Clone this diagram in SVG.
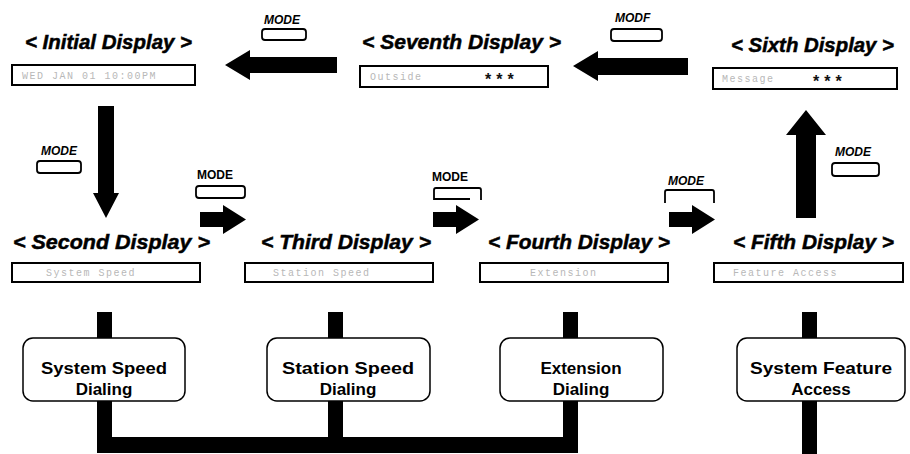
<svg xmlns="http://www.w3.org/2000/svg" width="910" height="454" viewBox="0 0 910 454">
<style>
.title{font-family:"Liberation Sans",Arial,sans-serif;font-weight:bold;font-style:italic;font-size:20.5px;fill:#000;stroke:#000;stroke-width:0.5}
.disp{fill:#fff;stroke:#000;stroke-width:2}
.dtxt{font-family:"Liberation Mono","DejaVu Sans Mono",monospace;font-size:10px;fill:#b8b8b8;letter-spacing:1.5px}
.star{font-family:"Liberation Sans",Arial,sans-serif;font-size:16px;font-weight:bold;fill:#111}
.node{fill:#fff;stroke:#000;stroke-width:1.5}
.ntxt{font-family:"Liberation Sans",Arial,sans-serif;font-weight:bold;font-size:17px;fill:#000;text-anchor:middle}
.mode{font-family:"Liberation Sans",Arial,sans-serif;font-weight:bold;font-style:italic;font-size:12px;fill:#000}
.modeu{font-family:"Liberation Sans",Arial,sans-serif;font-weight:bold;font-size:12px;fill:#000}
.btn{fill:#fff;stroke:#000;stroke-width:1.8}
.arr{fill:#000}
.bar{fill:#000}
</style>

<g id="connectors">
  <!-- Seventh -> Initial -->
  <polygon class="arr" points="225,65 250,50 250,57 337,57 337,73 250,73 250,80"/>
  <!-- Sixth -> Seventh -->
  <polygon class="arr" points="573,66 598,51 598,58 688,58 688,75 598,75 598,81"/>
  <!-- Initial -> Second -->
  <polygon class="arr" points="98,106 114,106 114,193 119,193 106,218 93,193 98,193"/>
  <!-- Fifth -> Sixth -->
  <polygon class="arr" points="806,110 826,135 816,135 816,218 796,218 796,135 786,135"/>
  <!-- Second -> Third -->
  <polygon class="arr" points="200,212 223,212 223,205 246,219.5 223,234 223,227 200,227"/>
  <!-- Third -> Fourth -->
  <polygon class="arr" points="433,212 456,212 456,205 479,219.5 456,234 456,227 433,227"/>
  <!-- Fourth -> Fifth -->
  <polygon class="arr" points="669,212 692,212 692,205 715,219.5 692,234 692,227 669,227"/>
  <!-- stubs and bus -->
  <rect class="bar" x="97" y="312" width="15" height="27"/>
  <rect class="bar" x="97" y="401" width="15" height="50"/>
  <rect class="bar" x="328" y="312" width="15" height="27"/>
  <rect class="bar" x="328" y="401" width="15" height="50"/>
  <rect class="bar" x="563" y="312" width="15" height="27"/>
  <rect class="bar" x="563" y="401" width="15" height="50"/>
  <rect class="bar" x="97" y="437" width="481" height="16"/>
  <rect class="bar" x="802" y="312" width="15" height="27"/>
  <rect class="bar" x="802" y="401" width="15" height="53"/>
</g>

<g id="mode-buttons">
  <g id="btn-top-left">
    <text class="mode" x="264" y="24">MODE</text>
    <rect class="btn" x="262" y="29" width="44" height="11" rx="3"/>
  </g>
  <g id="btn-top-right">
    <text class="mode" x="615" y="22">MODF</text>
    <rect class="btn" x="611" y="29" width="51" height="12" rx="3"/>
  </g>
  <g id="btn-left">
    <text class="mode" x="41" y="155">MODE</text>
    <rect class="btn" x="37" y="161" width="44" height="12" rx="3"/>
  </g>
  <g id="btn-row2-1">
    <text class="modeu" x="197" y="179">MODE</text>
    <rect class="btn" x="196" y="186" width="49" height="12" rx="3"/>
  </g>
  <g id="btn-row2-2">
    <text class="modeu" x="432" y="181">MODE</text>
    <path d="M434,200 V190 Q434,188 436,188 H479 Q481,188 481,190 V200 M434,199 H470" fill="none" stroke="#000" stroke-width="1.8"/>
  </g>
  <g id="btn-row2-3">
    <text class="mode" x="668" y="185">MODE</text>
    <path d="M665,203 V192 Q665,190 667,190 H712 Q714,190 714,192 V203" fill="none" stroke="#000" stroke-width="1.8"/>
  </g>
  <g id="btn-right">
    <text class="mode" x="835" y="156">MODE</text>
    <rect class="btn" x="832" y="163" width="47" height="13" rx="3"/>
  </g>
</g>

<g id="initial-display">
  <text class="title" x="25" y="49" textLength="167" lengthAdjust="spacingAndGlyphs">&lt; Initial Display &gt;</text>
  <rect class="disp" x="12" y="65" width="183" height="20"/>
  <text class="dtxt" x="22" y="79">WED JAN 01   10:00PM</text>
</g>

<g id="seventh-display">
  <text class="title" x="362" y="49" textLength="199" lengthAdjust="spacingAndGlyphs">&lt; Seventh Display &gt;</text>
  <rect class="disp" x="360" y="66" width="188" height="21"/>
  <text class="dtxt" x="370" y="80">Outside</text>
  <text class="star" x="485" y="85" letter-spacing="5">***</text>
</g>

<g id="sixth-display">
  <text class="title" x="731" y="52" textLength="163" lengthAdjust="spacingAndGlyphs">&lt; Sixth Display &gt;</text>
  <rect class="disp" x="713" y="68" width="184" height="21"/>
  <text class="dtxt" x="722" y="82">Message</text>
  <text class="star" x="813" y="87" letter-spacing="5">***</text>
</g>

<g id="second-display">
  <text class="title" x="13" y="249" textLength="197" lengthAdjust="spacingAndGlyphs">&lt; Second Display &gt;</text>
  <rect class="disp" x="12" y="263" width="188" height="19"/>
  <text class="dtxt" x="46" y="276">System Speed</text>
</g>

<g id="third-display">
  <text class="title" x="261" y="249" textLength="170" lengthAdjust="spacingAndGlyphs">&lt; Third Display &gt;</text>
  <rect class="disp" x="245" y="263" width="188" height="19"/>
  <text class="dtxt" x="273" y="276">Station Speed</text>
</g>

<g id="fourth-display">
  <text class="title" x="488" y="249" textLength="182" lengthAdjust="spacingAndGlyphs">&lt; Fourth Display &gt;</text>
  <rect class="disp" x="480" y="263" width="188" height="19"/>
  <text class="dtxt" x="530" y="276">Extension</text>
</g>

<g id="fifth-display">
  <text class="title" x="733" y="249" textLength="161" lengthAdjust="spacingAndGlyphs">&lt; Fifth Display &gt;</text>
  <rect class="disp" x="714" y="263" width="189" height="19"/>
  <text class="dtxt" x="733" y="276">Feature Access</text>
</g>

<g id="node-system-speed">
  <rect class="node" x="23" y="338" width="162" height="63" rx="10"/>
  <text class="ntxt" x="104" y="374" textLength="126" lengthAdjust="spacingAndGlyphs">System Speed</text>
  <text class="ntxt" x="104" y="395">Dialing</text>
</g>

<g id="node-station-speed">
  <rect class="node" x="267" y="338" width="163" height="63" rx="10"/>
  <text class="ntxt" x="348" y="374" textLength="132" lengthAdjust="spacingAndGlyphs">Station Speed</text>
  <text class="ntxt" x="348" y="395">Dialing</text>
</g>

<g id="node-extension">
  <rect class="node" x="500" y="338" width="163" height="63" rx="10"/>
  <text class="ntxt" x="581" y="374">Extension</text>
  <text class="ntxt" x="581" y="395">Dialing</text>
</g>

<g id="node-system-feature">
  <rect class="node" x="737" y="338" width="168" height="63" rx="10"/>
  <text class="ntxt" x="821" y="374" textLength="142" lengthAdjust="spacingAndGlyphs">System Feature</text>
  <text class="ntxt" x="821" y="395">Access</text>
</g>
</svg>
